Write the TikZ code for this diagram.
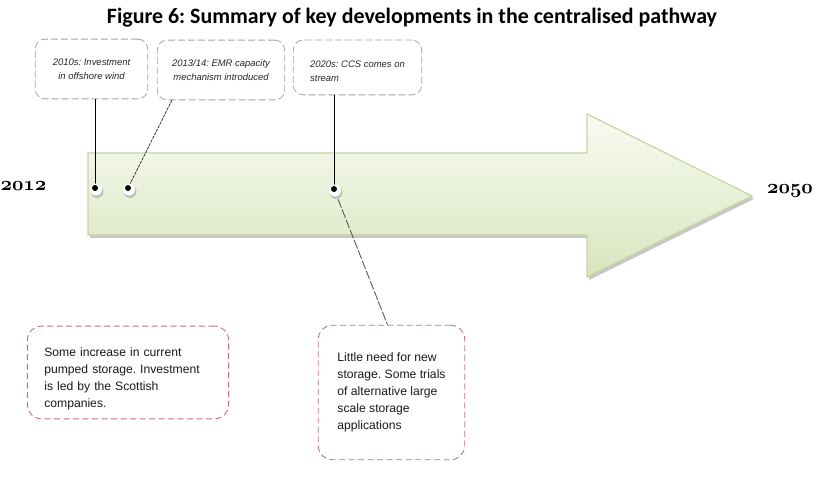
\documentclass[tikz,border=0pt]{standalone}
\usepackage{fontspec}
\newfontfamily\boxfont{Liberation Sans}
\newfontfamily\titlefont{Carlito}
\usetikzlibrary{calc,positioning}
\definecolor{arrowedge}{RGB}{196,214,160}
\definecolor{arrowtop}{RGB}{249,251,243}
\definecolor{arrowbottom}{RGB}{216,229,190}
\definecolor{notegray}{RGB}{165,165,165}
\definecolor{notered}{RGB}{196,112,118}
\newcommand\yearnums[1]{{\usefont{OML}{cmm}{b}{it}#1}}
\frenchspacing

\begin{document}
\begin{tikzpicture}[x=1bp, y=-1bp,
 event/.style={draw=notegray, dash pattern=on 7bp off 3bp, rounded corners=10bp,
    line width=0.8bp, inner sep=0pt, text=black!85,
    font={\boxfont\itshape\fontsize{9.5}{14}\selectfont}},
 storage/.style={draw=notered, dash pattern=on 6bp off 3.5bp, rounded corners=14bp,
    line width=0.9bp, inner sep=0pt, align=left, text=black!90,
    font={\boxfont\fontsize{12.2}{17}\selectfont}},
 year/.style={font={\fontsize{17.28}{17.28}\selectfont}, scale=1.16}]

 \useasboundingbox (0,0) rectangle (827,478);

 \node (title) at (412,18)
   {\titlefont\bfseries\fontsize{22}{22}\selectfont Figure 6: Summary of key developments in the centralised pathway};

% the arrow
 \def\arrowshape{(88,153) -- (587,153) -- (587,114) -- (752,196) -- (587,277) -- (587,235) -- (88,235) -- cycle}
 \fill[black!22, xshift=2bp, yshift=-3bp] \arrowshape;
 \shade[top color=arrowtop, bottom color=arrowbottom, draw=arrowedge, line width=1.2bp] \arrowshape;

 \node[year] (start) at (23.5,186) {\yearnums{2012}};
 \node[year] (end) at (790,191) {\yearnums{2050}};

 \coordinate (d1) at (95,188);
 \coordinate (d2) at (128,188);
 \coordinate (d3) at (334,189);

% events above the arrow
 \node[event, minimum width=113, minimum height=60, align=center] (wind) at (91.5,69)
   {2010s: Investment\\ in offshore wind};
 \node[event, minimum width=128, minimum height=60, align=center] (emr) at (221,70)
   {2013/14: EMR capacity\\ mechanism introduced};
 \node[event, minimum width=129, minimum height=55, align=left] (ccs) at (357.5,67.5)
   {\rule{0pt}{14bp}2020s: CCS comes on\\ stream};

% storage notes below
 \node[storage, minimum width=202, minimum height=93, text width=168] (pumped) at (128,372.5)
   {\rule{0pt}{22bp}Some increase in current\\ pumped storage. Investment\\ is led by the Scottish\\ companies.};
 \node[storage, minimum width=147, minimum height=135] (trials) at (391.5,392.5)
   {Little need for new\\ storage. Some trials\\ of alternative large\\ scale storage\\ applications};

 \draw[line width=0.8bp] (wind.south -| d1) -- (d1);
 \draw[line width=0.7bp, black!80, dash pattern=on 3bp off 1bp] ([xshift=15bp]emr.south west) -- (d2);
 \draw[line width=0.8bp] (ccs.south -| d3) -- (d3);
 \draw[line width=0.9bp, black!65, dash pattern=on 9bp off 2bp] (d3) -- ([xshift=-4bp]trials.north);

 \foreach \d in {d1,d2,d3} {
   \fill[black!25] ($(\d)+(2,3.5)$) circle (6.5bp);
   \fill[white] ($(\d)+(1,1.5)$) circle (6bp);
   \fill (\d) circle (3bp);
 }

\end{tikzpicture}
\end{document}
